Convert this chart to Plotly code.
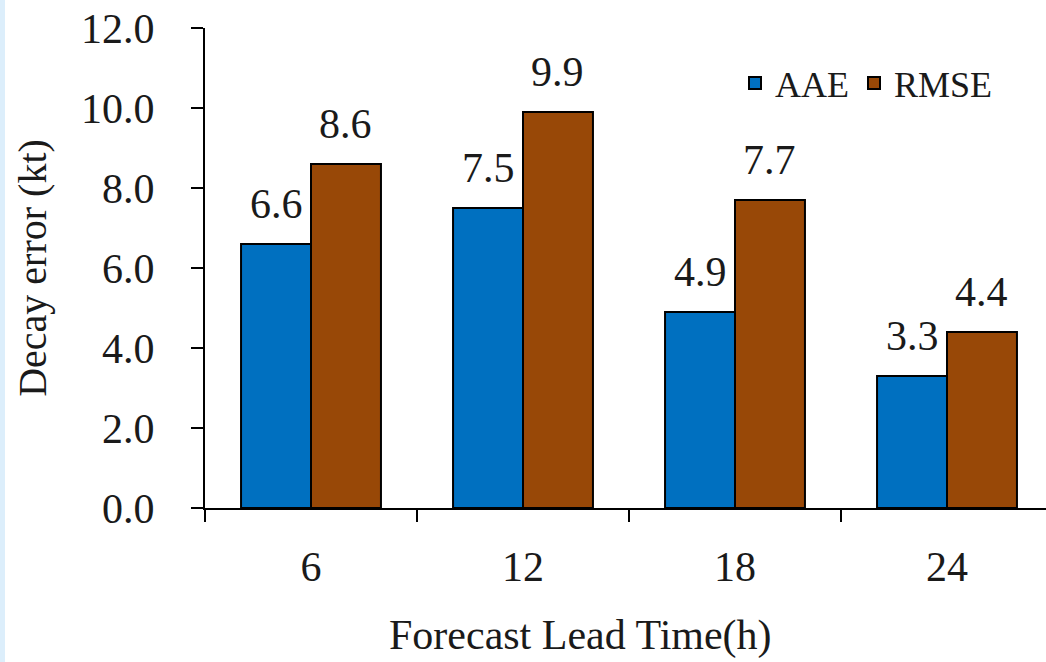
import plotly.graph_objects as go

# Forecast lead times (hours) and decay-error statistics (kt)
lead_times = ["6", "12", "18", "24"]
aae = [6.6, 7.5, 4.9, 3.3]
rmse = [8.6, 9.9, 7.7, 4.4]
y_ticks = [0, 2, 4, 6, 8, 10, 12]

W, H = 1046, 662
L, R, T, B = 205, 0, 28, 154
FONT = "'Liberation Serif', 'Times New Roman', serif"
BLUE = "#0070C0"
BROWN = "#984807"
INK = "#1a1a1a"

xs = list(range(len(lead_times)))
bargap = 0.34
half = (1 - bargap) / 4  # centre offset of each bar within its group

fig = go.Figure()
fig.add_trace(go.Bar(
    x=xs, y=aae, name="AAE",
    marker=dict(color=BLUE, line=dict(color="black", width=2)),
))
fig.add_trace(go.Bar(
    x=xs, y=rmse, name="RMSE",
    marker=dict(color=BROWN, line=dict(color="black", width=2)),
))

# value labels above each bar
annotations = []
for i, (a, r) in enumerate(zip(aae, rmse)):
    for off, v in ((-half, a), (half, r)):
        annotations.append(dict(
            x=i + off, y=v, xref="x", yref="y", text=f"{v:.1f}",
            showarrow=False, yanchor="bottom", yshift=15,
            font=dict(family=FONT, size=42, color=INK),
        ))

pw = W - L - R
ph = H - T - B
cat_px = 212.0
x_right = -0.5 + pw / cat_px

# x-axis title
annotations.append(dict(
    x=(580 - L) / pw, y=-(635 - (H - B)) / ph, xref="paper", yref="paper",
    text="Forecast Lead Time(h)", showarrow=False,
    xanchor="center", yanchor="middle",
    font=dict(family=FONT, size=42, color=INK),
))

fig.update_layout(
    width=W, height=H,
    margin=dict(l=L, r=R, t=T, b=B, pad=0),
    paper_bgcolor="white", plot_bgcolor="white",
    barmode="group", bargap=bargap, bargroupgap=0,
    showlegend=True,
    legend=dict(
        orientation="h", x=(735 - L) / pw, xanchor="left",
        y=(H - B - 83) / ph, yanchor="middle",
        font=dict(family=FONT, size=36, color=INK),
        bgcolor="rgba(0,0,0,0)", itemwidth=30, traceorder="normal",
    ),
    annotations=annotations,
    shapes=[dict(
        type="rect", xref="paper", yref="paper",
        x0=-L / pw, x1=(5 - L) / pw, y0=-B / ph, y1=1 + T / ph,
        fillcolor="#DCEEFB", line=dict(width=0), layer="below",
    )],
)

fig.update_xaxes(
    range=[-0.5, x_right], tickvals=xs, ticktext=lead_times,
    ticks="", showgrid=False, zeroline=False,
    showline=True, linecolor="black", linewidth=2,
    tickfont=dict(family=FONT, size=42, color=INK),
    ticklabelstandoff=21,
    minor=dict(tick0=-0.5, dtick=1, ticks="outside", ticklen=12,
               tickwidth=2, tickcolor="black", showgrid=False),
)

fig.update_yaxes(
    range=[0, 12], tickvals=y_ticks, ticktext=[f"{v:.1f}" for v in y_ticks],
    ticks="outside", ticklen=12, tickwidth=2, tickcolor="black",
    showgrid=False, zeroline=False,
    showline=True, linecolor="black", linewidth=2,
    tickfont=dict(family=FONT, size=42, color=INK),
    ticklabelstandoff=28,
    title=dict(text="Decay error (kt)", standoff=22,
               font=dict(family=FONT, size=40, color=INK)),
)

fig.write_html("out.html")
